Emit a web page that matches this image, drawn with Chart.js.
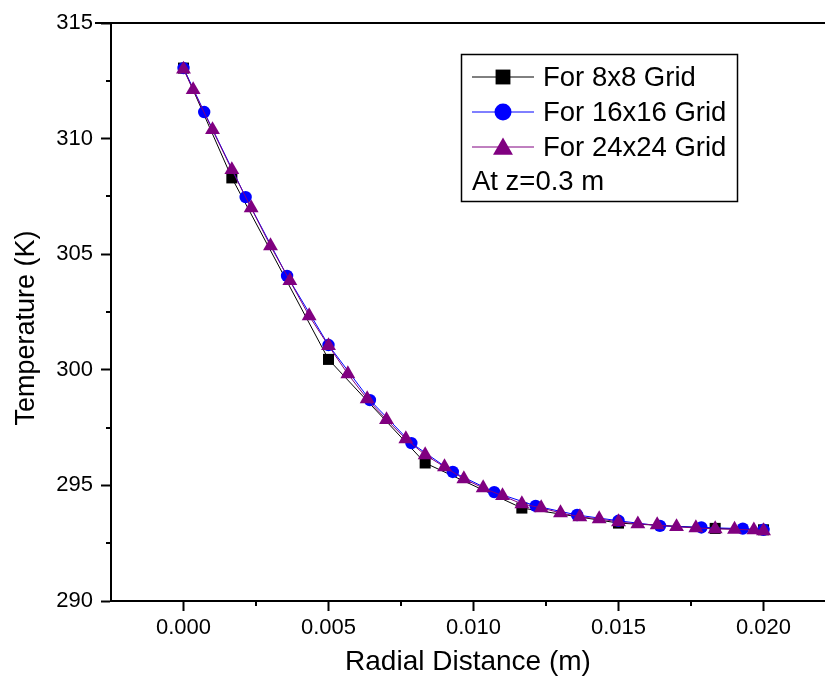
<!DOCTYPE html>
<html>
<head>
<meta charset="utf-8">
<script src="https://cdn.jsdelivr.net/npm/chart.js@4.4.0/dist/chart.umd.min.js"></script>
<style>
  html, body { margin: 0; padding: 0; background: #fff; overflow: hidden; }
  #wrap { position: relative; width: 825px; height: 687px; }
</style>
</head>
<body>
<div id="wrap"><canvas id="c"></canvas></div>
<script>
// ---- data ----
const x8 = [0, 0.001667, 0.005, 0.008333, 0.011667, 0.015, 0.018333, 0.02];
const t8 = [313.05, 308.3, 300.45, 295.97, 294.02, 293.37, 293.14, 293.08];

const x16 = [0, 0.000714, 0.002143, 0.003571, 0.005, 0.006429, 0.007857, 0.009286,
             0.010714, 0.012143, 0.013571, 0.015, 0.016429, 0.017857, 0.019286, 0.02];
const t16 = [313.05, 311.15, 307.47, 304.06, 301.07, 298.69, 296.83, 295.58,
             294.71, 294.11, 293.72, 293.47, 293.25, 293.18, 293.13, 293.08];

const x24 = [0, 0.000333, 0.001, 0.001667, 0.002333, 0.003, 0.003667, 0.004333,
             0.005, 0.005667, 0.006333, 0.007, 0.007667, 0.008333, 0.009, 0.009667,
             0.010333, 0.011, 0.011667, 0.012333, 0.013, 0.013667, 0.014333, 0.015,
             0.015667, 0.016333, 0.017, 0.017667, 0.018333, 0.019, 0.019667, 0.02];
const t24 = [313.0, 312.11, 310.38, 308.65, 307.0, 305.36, 303.85, 302.33,
             301.04, 299.82, 298.74, 297.84, 297.01, 296.32, 295.8, 295.28,
             294.89, 294.55, 294.2, 294.03, 293.81, 293.64, 293.55, 293.42,
             293.33, 293.29, 293.21, 293.16, 293.12, 293.1, 293.07, 293.03];

const seriesLabels = ['For 8x8 Grid', 'For 16x16 Grid', 'For 24x24 Grid'];
const noteText = 'At z=0.3 m';
const xTitle = 'Radial Distance (m)';
const yTitle = 'Temperature (K)';
const xMajorTicks = [0, 0.005, 0.010, 0.015, 0.020];
const xMinorTicks = [0.0025, 0.0075, 0.0125, 0.0175];
const yMajorTicks = [290, 295, 300, 305, 310, 315];
const yMinorTicks = [292.5, 297.5, 302.5, 307.5, 312.5];

const FONT = '"Liberation Sans", Arial, Helvetica, sans-serif';

function pts(xs, ys) { return xs.map((x, i) => ({ x: x, y: ys[i] })); }

const minorTicksPlugin = {
  id: 'minorTicks',
  afterDraw(chart) {
    const ctx = chart.ctx, xs = chart.scales.x, ys = chart.scales.y;
    const a = chart.chartArea;
    ctx.save();
    ctx.strokeStyle = '#000';
    ctx.lineWidth = 2;
    ctx.beginPath();
    xMinorTicks.forEach(v => {
      const p = Math.round(xs.getPixelForValue(v));
      ctx.moveTo(p, a.bottom); ctx.lineTo(p, a.bottom + 5);
    });
    yMinorTicks.forEach(v => {
      const p = Math.round(ys.getPixelForValue(v));
      ctx.moveTo(a.left - 5, p); ctx.lineTo(a.left, p);
    });
    // top frame line
    const top = ys.getPixelForValue(315);
    ctx.moveTo(a.left - 16, top); ctx.lineTo(a.right, top);
    ctx.stroke();
    // y axis title
    ctx.fillStyle = '#000';
    ctx.font = '27px ' + FONT;
    ctx.textAlign = 'center';
    ctx.textBaseline = 'middle';
    ctx.translate(27, 328);
    ctx.rotate(-Math.PI / 2);
    ctx.fillText(yTitle, 0, 0);
    ctx.restore();
  }
};

const legendPlugin = {
  id: 'boxLegend',
  afterDraw(chart) {
    const ctx = chart.ctx;
    ctx.save();
    ctx.lineWidth = 1.5;
    ctx.strokeStyle = '#000';
    ctx.strokeRect(461.5, 54.5, 276, 147);
    ctx.font = '27.5px ' + FONT;
    ctx.textBaseline = 'middle';
    ctx.textAlign = 'left';
    ctx.fillStyle = '#000';
    const legendRadius = [10.5, 8.5, 11.5];
    chart.data.datasets.forEach((ds, i) => {
      const y = 77 + 35 * i;
      ctx.strokeStyle = ds.borderColor;
      ctx.lineWidth = 1;
      ctx.beginPath();
      ctx.moveTo(472, y); ctx.lineTo(534, y);
      ctx.stroke();
      ctx.fillStyle = ds.pointBackgroundColor;
      ctx.strokeStyle = ds.pointBackgroundColor;
      Chart.helpers.drawPoint(ctx, { pointStyle: ds.pointStyle, radius: legendRadius[i], rotation: 0, borderWidth: 0 }, 503, i === 2 ? y + 2 : y);
      ctx.fillStyle = '#000';
      ctx.fillText(ds.label, 543, y + 1);
    });
    ctx.fillText(noteText, 472, 182);
    ctx.restore();
  }
};

new Chart(document.getElementById('c'), {
  type: 'line',
  data: {
    datasets: [
      { label: seriesLabels[0], data: pts(x8, t8), borderColor: '#000000', pointBackgroundColor: '#000000',
        pointBorderColor: '#000000', borderWidth: 1, pointStyle: 'rect', pointRadius: 7.8, pointBorderWidth: 0, order: 3 },
      { label: seriesLabels[1], data: pts(x16, t16), borderColor: '#0000ff', pointBackgroundColor: '#0000ff',
        pointBorderColor: '#0000ff', borderWidth: 1, pointStyle: 'circle', pointRadius: 6.2, pointBorderWidth: 0, order: 2 },
      { label: seriesLabels[2], data: pts(x24, t24), borderColor: '#800080', pointBackgroundColor: '#800080',
        pointBorderColor: '#800080', borderWidth: 1, pointStyle: 'triangle', pointRadius: 8.6, pointBorderWidth: 0, order: 1 }
    ]
  },
  options: {
    responsive: true,
    maintainAspectRatio: false,
    animation: false,
    layout: { autoPadding: false, padding: { left: 0, right: 0, top: 23, bottom: 0 } },
    plugins: { legend: { display: false }, tooltip: { enabled: false } },
    elements: { line: { tension: 0 } },
    scales: {
      x: {
        type: 'linear',
        min: -0.0025,
        max: 0.02212,
        afterBuildTicks(s) { s.ticks = xMajorTicks.map(v => ({ value: v })); },
        afterFit(s) { s.height = 86; s.paddingLeft = 0; s.paddingRight = 0; },
        ticks: {
          color: '#000', padding: 4,
          font: { family: FONT, size: 22 },
          callback: v => Number(v).toFixed(3),
          maxRotation: 0, autoSkip: false
        },
        grid: { drawOnChartArea: false, drawTicks: true, tickLength: 10, tickWidth: 2, tickColor: '#000', color: '#000' },
        border: { display: true, color: '#000', width: 2 },
        title: { display: true, text: xTitle, color: '#000', font: { family: FONT, size: 28 }, padding: { top: 0, bottom: 8 } }
      },
      y: {
        type: 'linear',
        min: 290,
        max: 315,
        afterBuildTicks(s) { s.ticks = yMajorTicks.map(v => ({ value: v })); },
        afterFit(s) { s.width = 111; },
        ticks: {
          color: '#000', padding: 8,
          font: { family: FONT, size: 22 },
          callback: v => String(v),
          autoSkip: false
        },
        grid: { drawOnChartArea: false, drawTicks: true, tickLength: 10, tickWidth: 2, tickColor: '#000', color: '#000' },
        border: { display: true, color: '#000', width: 2 },
        title: { display: false }
      }
    }
  },
  plugins: [minorTicksPlugin, legendPlugin]
});
</script>
</body>
</html>
